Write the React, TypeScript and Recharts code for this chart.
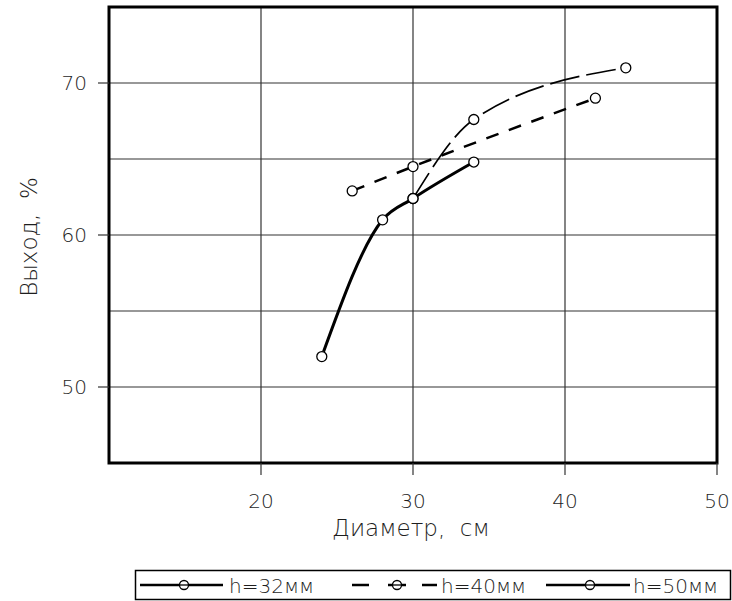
import { LineChart, Line, XAxis, YAxis, CartesianGrid, ReferenceArea, Label } from 'recharts';

// diameter (cm) and yield (%)
const D_32 = [24, 28, 30, 34];
const Y_32 = [52, 61, 62.4, 64.8];
const D_40 = [26, 30, 42];
const Y_40 = [62.9, 64.5, 69];
const D_50 = [30, 34, 44];
const Y_50 = [62.4, 67.6, 71];

const SERIES_NAMES = ['h=32мм', 'h=40мм', 'h=50мм'];
const X_TICKS = [20, 30, 40, 50];
const Y_TICKS = [50, 55, 60, 65, 70];
const Y_LABELED = [50, 60, 70];
const X_TITLE = 'Диаметр,\u00A0 см';
const Y_TITLE = 'Выход,\u00A0 %';

const zip = (xs: number[], ys: number[]) => xs.map((d, i) => ({ d, v: ys[i] }));
const data32 = zip(D_32, Y_32);
const data40 = zip(D_40, Y_40);
const data50 = zip(D_50, Y_50);

const FONT = '"DejaVu Sans", sans-serif';
const TEXT = '#1e1e1e';
const WEIGHT = 200;

const OpenDot = (p: any) => (
  <circle key={`${p.dataKey}-${p.index}`} cx={p.cx} cy={p.cy} r={5} fill="#fff" stroke="#000" strokeWidth={1.3} />
);

function YTick({ x, y, payload }: any) {
  if (!Y_LABELED.includes(payload.value)) return <g />;
  return (
    <g>
      <line x1={x - 11} x2={x} y1={y} y2={y} stroke="#333" strokeWidth={1.2} />
      <text x={x - 22} y={y} dy={7} textAnchor="end" fontSize={20} fontFamily={FONT} fontWeight={WEIGHT} fill={TEXT}>
        {payload.value}
      </text>
    </g>
  );
}

function XTick({ x, y, payload }: any) {
  return (
    <g>
      <line x1={x} x2={x} y1={y} y2={y + 12} stroke="#333" strokeWidth={1.2} />
      <text x={x} y={y + 45} textAnchor="middle" fontSize={20} fontFamily={FONT} fontWeight={WEIGHT} fill={TEXT}>
        {payload.value}
      </text>
    </g>
  );
}

function YTitle({ viewBox }: any) {
  const cx = 29;
  const cy = viewBox.y + viewBox.height / 2 + 2;
  return (
    <text x={cx} y={cy} transform={`rotate(-90 ${cx} ${cy})`} textAnchor="middle" dy={8}
      fontSize={23} fontFamily={FONT} fontWeight={WEIGHT} fill={TEXT}>
      {Y_TITLE}
    </text>
  );
}

function XTitle({ viewBox }: any) {
  return (
    <text x={viewBox.x + viewBox.width / 2 - 2} y={viewBox.y + 73} textAnchor="middle"
      fontSize={23} fontFamily={FONT} fontWeight={WEIGHT} fill={TEXT}>
      {X_TITLE}
    </text>
  );
}

function LegendBox() {
  const y = 585;
  const txt = { fontSize: 20, fontFamily: FONT, fontWeight: WEIGHT, fill: TEXT } as const;
  return (
    <svg width={732} height={601} style={{ position: 'absolute', left: 0, top: 0, pointerEvents: 'none' }}>
      <rect x={135.5} y={570.5} width={595} height={29} fill="none" stroke="#000" strokeWidth={1.5} />
      <line x1={140} x2={223} y1={y} y2={y} stroke="#000" strokeWidth={2.5} />
      <circle cx={184} cy={y} r={4.5} fill="#fff" stroke="#000" strokeWidth={1.3} />
      <line x1={180} x2={188} y1={y} y2={y} stroke="#000" strokeWidth={1.3} />
      <text x={229} y={y + 8} {...txt}>{SERIES_NAMES[0]}</text>

      <line x1={352} x2={369} y1={y} y2={y} stroke="#000" strokeWidth={2.5} />
      <line x1={388} x2={406} y1={y} y2={y} stroke="#000" strokeWidth={2.5} />
      <circle cx={397} cy={y} r={4.5} fill="#fff" stroke="#000" strokeWidth={1.3} />
      <line x1={393} x2={401} y1={y} y2={y} stroke="#000" strokeWidth={1.3} />
      <line x1={422} x2={437} y1={y} y2={y} stroke="#000" strokeWidth={2.5} />
      <text x={441} y={y + 8} {...txt}>{SERIES_NAMES[1]}</text>

      <line x1={546} x2={630} y1={y} y2={y} stroke="#000" strokeWidth={2.5} />
      <circle cx={590} cy={y} r={4.5} fill="#fff" stroke="#000" strokeWidth={1.3} />
      <line x1={586} x2={594} y1={y} y2={y} stroke="#000" strokeWidth={1.3} />
      <text x={633} y={y + 8} {...txt}>{SERIES_NAMES[2]}</text>
    </svg>
  );
}

export default function App() {
  return (
    <div style={{ position: 'absolute', left: 0, top: 0, width: 732, height: 601, background: '#fff' }}>
      <LineChart width={732} height={601} margin={{ top: 7, right: 15, bottom: 0, left: 0 }}>
        <CartesianGrid stroke="#333" strokeWidth={1.2} />
        <XAxis
          dataKey="d"
          type="number"
          domain={[10, 50]}
          ticks={X_TICKS}
          allowDataOverflow
          height={138}
          axisLine={false}
          tickLine={false}
          tickSize={0}
          tickMargin={0}
          tick={<XTick />}
          interval={0}
        >
          <Label content={<XTitle />} />
        </XAxis>
        <YAxis
          type="number"
          domain={[45, 75]}
          ticks={Y_TICKS}
          allowDataOverflow
          width={109}
          axisLine={false}
          tickLine={false}
          tickSize={0}
          tickMargin={0}
          tick={<YTick />}
          interval={0}
        >
          <Label content={<YTitle />} />
        </YAxis>
        <ReferenceArea x1={10} x2={50} y1={45} y2={75} fill="none" stroke="#000" strokeWidth={3} ifOverflow="visible" />
        <Line
          data={data32}
          dataKey="v"
          name={SERIES_NAMES[0]}
          type="monotone"
          stroke="#000"
          strokeWidth={3}
          dot={OpenDot}
          isAnimationActive={false}
        />
        <Line
          data={data40}
          dataKey="v"
          name={SERIES_NAMES[1]}
          type="monotone"
          stroke="#000"
          strokeWidth={2.5}
          strokeDasharray="13 11"
          dot={OpenDot}
          isAnimationActive={false}
        />
        <Line
          data={data50}
          dataKey="v"
          name={SERIES_NAMES[2]}
          type="monotone"
          stroke="#000"
          strokeWidth={1.7}
          strokeDasharray="30 7"
          dot={OpenDot}
          isAnimationActive={false}
        />
      </LineChart>
      <LegendBox />
    </div>
  );
}
